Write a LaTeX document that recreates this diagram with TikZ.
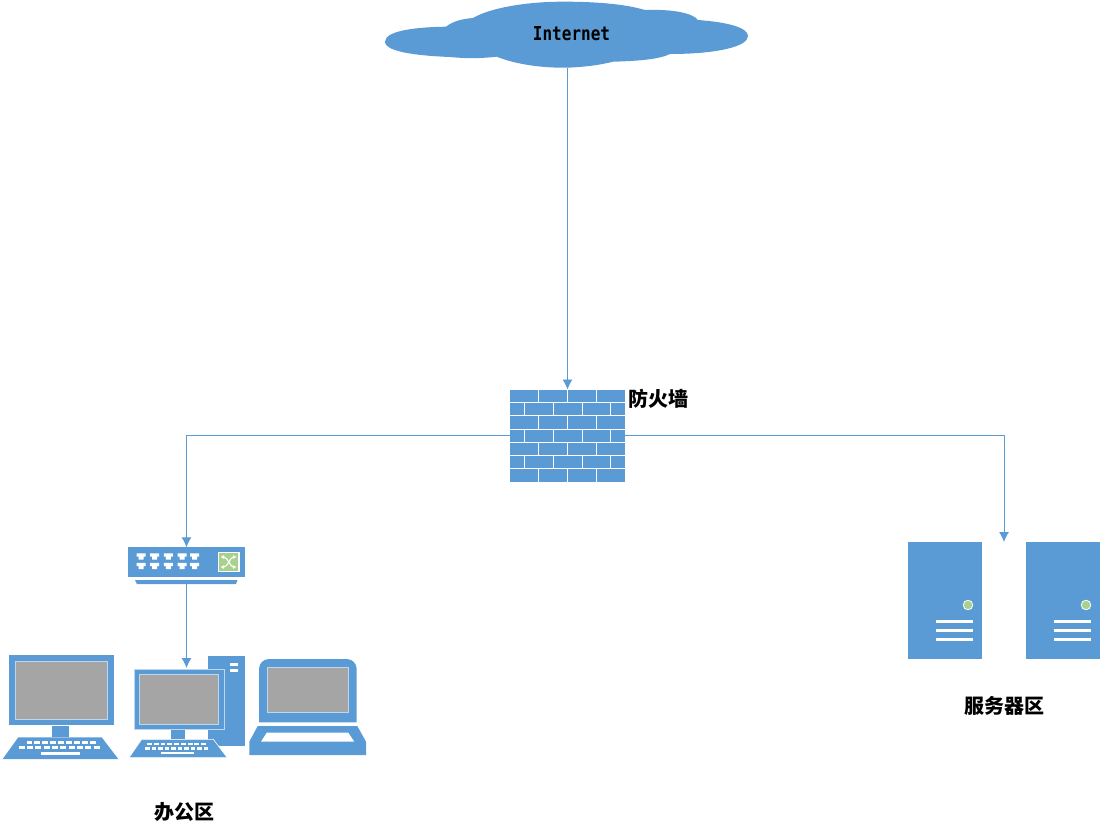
\documentclass[tikz,border=0pt]{standalone}
\usepackage{fontspec}
\newfontfamily\cjk{Noto Sans CJK SC}
\newfontfamily\latinmono{DejaVu Sans Mono}
\usetikzlibrary{arrows.meta}
\definecolor{netblue}{HTML}{5B9BD5}
\definecolor{netgreen}{HTML}{A9D18E}
\definecolor{netgray}{HTML}{A5A5A5}
\definecolor{netedge}{HTML}{BDD7EE}
\tikzset{
  link/.style={draw=netblue,line width=0.9pt,-{Latex[length=10pt,width=10pt]}},
  anchorbox/.style={inner sep=0pt,outer sep=0pt,draw=none},
  screenfill/.style={fill=netgray,draw=netedge,line width=1pt},
  label/.style={inner sep=0pt,font=\cjk\bfseries\fontsize{20}{24}\selectfont,text=black},
  netlabel/.style={inner sep=0pt,font=\latinmono\bfseries\fontsize{16}{20}\selectfont,text=black}
}
\newcommand{\kbrow}[5]{% x0 x1 n y0 y1
  \pgfmathsetmacro{\kbstep}{(#2-#1)/#3}
  \foreach \kbi in {1,...,#3}{
    \pgfmathsetmacro{\kbl}{#1+(\kbi-1)*\kbstep}
    \pgfmathsetmacro{\kbr}{\kbl+\kbstep*0.72}
    \fill[white] (\kbl,#4) rectangle (\kbr,#5);
  }
}
\newcommand{\srvbox}[1]{%
  \begin{scope}[xshift=#1pt]
    \fill[netblue] (908,542) rectangle (982,659);
    \fill[netgreen,draw=white,line width=0.8pt] (968,605) circle (4.8);
    \fill[white] (936,619.7) rectangle (973,622.7);
    \fill[white] (936,628.7) rectangle (973,631.7);
    \fill[white] (936,637.7) rectangle (973,640.7);
  \end{scope}
}
\begin{document}
\begin{tikzpicture}[x=1pt,y=-1pt]
\useasboundingbox (0,0) rectangle (1102,838);

% cloud
\fill[netblue] (446,26.7)
  .. controls (420,27) and (385,30) .. (385,41.7)
  .. controls (385,53) and (425,56) .. (450,57)
  .. controls (470,59) and (485,58) .. (496.7,56.7)
  .. controls (515,64) and (540,68) .. (566.7,67.7)
  .. controls (585,67) and (600,65) .. (613,61.7)
  .. controls (640,61) and (660,59) .. (670,54)
  .. controls (715,54) and (748,47) .. (748,36)
  .. controls (748,27) and (725,22) .. (698,20)
  .. controls (693,13) and (672,9) .. (645,10)
  .. controls (625,4) and (595,1.5) .. (560,1.7)
  .. controls (525,2) and (490,8) .. (473,18)
  .. controls (460,19) and (452,22) .. (446,26.7) -- cycle;
\node[anchorbox,minimum width=363pt,minimum height=66pt] (cloud) at (567.5,35) {};
\node[netlabel] (internet) at (571.5,34) {\scalebox{1}[1.2]{Internet}};

% firewall
\node[anchorbox,fill=netblue,minimum width=115pt,minimum height=92.4pt] (firewall) at (567.5,435.7) {};
\foreach \r in {1,...,6}{
  \draw[white,line width=1pt] (510,389.5+\r*13.2) -- (625,389.5+\r*13.2);
}
\foreach \r in {0,2,4,6}{
  \foreach \c in {538.7,567.7,596.3}{
    \draw[white,line width=1pt] (\c,389.5+\r*13.2) -- (\c,402.7+\r*13.2);
  }
}
\foreach \r in {1,3,5}{
  \foreach \c in {524.3,553.3,582,610.7}{
    \draw[white,line width=1pt] (\c,389.5+\r*13.2) -- (\c,402.7+\r*13.2);
  }
}
\node[label,anchor=west] (fwlabel) at (628,399) {防火墙};

% switch
\node[anchorbox,minimum width=117pt,minimum height=36.8pt] (switch) at (186.5,565.7) {};
\fill[netblue] (128,547.3) rectangle (245,576.7);
\fill[netblue] (135,580) -- (237.5,580) -- (236,584) -- (137,584) -- cycle;
\foreach \px in {141,154.5,168.3,182,194.7}{
  \foreach \py in {553.3,562.8}{
    \fill[white] (\px-4.5,\py) -- (\px+4.5,\py) -- (\px+4.5,\py+3.4) -- (\px+2.5,\py+3.4) -- (\px+2.5,\py+6.3) -- (\px-2.5,\py+6.3) -- (\px-2.5,\py+3.4) -- (\px-4.5,\py+3.4) -- cycle;
  }
}
\fill[netgreen,draw=white,line width=1.2pt] (218.2,552.3) rectangle (239,571.7);
\draw[white,line width=1.1pt,{Latex[length=3.5pt,width=4pt]}-{Latex[length=3.5pt,width=4pt]}] (220.5,557) .. controls (228,557) and (230,567) .. (236.5,567);
\draw[white,line width=1.1pt,{Latex[length=3.5pt,width=4pt]}-{Latex[length=3.5pt,width=4pt]}] (220.5,567) .. controls (228,567) and (230,557) .. (236.5,557);

% office: desktop 1
\fill[netblue] (9,655) rectangle (113.5,725);
\filldraw[screenfill] (15,661.7) rectangle (107.3,719);
\fill[netblue] (51.7,726) rectangle (69.3,737);
\fill[netblue] (18.3,737.3) -- (101.7,737.3) -- (118.3,759) -- (2.7,759) -- cycle;
\kbrow{26.5}{98}{9}{740.7}{744.3}
\kbrow{18.5}{102}{10}{746}{749.3}
\fill[white] (40.7,751.7) rectangle (80,755);

% office: desktop 2
\fill[netblue] (208,656) rectangle (245,746);
\fill[white] (230,663.3) rectangle (238.3,665.9);
\fill[white] (230,668.7) rectangle (238.3,671.7);
\fill[netblue,draw=netedge,line width=1pt] (134,669) rectangle (224,729.3);
\filldraw[screenfill] (139,674.3) rectangle (218.3,724);
\fill[netblue] (170.7,730) rectangle (185.3,739);
\fill[netblue,draw=white,line width=0.6pt] (141.7,739.3) -- (213.3,739.3) -- (227.3,757.7) -- (129,757.7) -- cycle;
\kbrow{147}{208}{9}{742.5}{745.2}
\kbrow{145}{210}{10}{746.8}{749.6}
\fill[white] (161,751.7) rectangle (194,754.3);

% office: laptop
\fill[netblue] (259,722.3) -- (259,669) arc[start angle=180,end angle=90,radius=10pt] -- (346.7,659) arc[start angle=90,end angle=0,radius=10pt] -- (356.7,722.3) -- cycle;
\filldraw[screenfill] (267.7,667.7) rectangle (348.3,712.7);
\fill[netblue] (257.7,726) -- (357.3,726) -- (366,741.7) -- (366,755) -- (249.3,755) -- (249.3,741.7) -- cycle;
\fill[white] (266.7,732.7) -- (348.3,732.7) -- (354.3,741.7) -- (261,741.7) -- cycle;

\node[label] (officelabel) at (184.5,812) {办公区};

% servers
\srvbox{0}
\srvbox{118}
\node[anchorbox,minimum width=192pt,minimum height=118pt] (servers) at (1004,601) {};
\node[label] (serverlabel) at (1004.5,706) {服务器区};

% connectors
\coordinate (pctop) at (186.5,668);
\draw[link] (cloud.south) -- (firewall.north);
\draw[link] (firewall.west) -| (switch.north);
\draw[link] (firewall.east) -| (servers.north);
\draw[link] (switch.south) -- (pctop);
\end{tikzpicture}
\end{document}
